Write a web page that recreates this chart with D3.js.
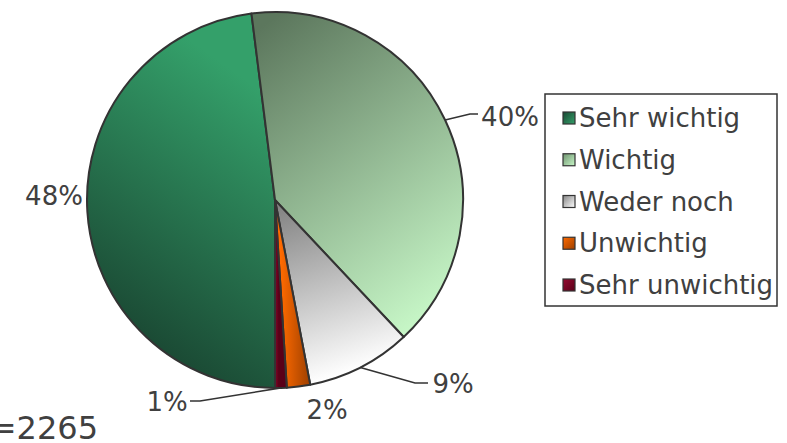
<!DOCTYPE html>
<html>
<head>
<meta charset="utf-8">
<script src="https://cdn.jsdelivr.net/npm/d3@7"></script>
<style>
  html, body { margin: 0; padding: 0; background: #fff; }
  svg { display: block; font-family: "DejaVu Sans", Verdana, sans-serif; }
</style>
</head>
<body>
<svg id="chart" width="787" height="443"></svg>
<script>
// Answer categories, in drawing order (clockwise from six o'clock)
const categories = ["Sehr wichtig", "Wichtig", "Weder noch", "Unwichtig", "Sehr unwichtig"];
// Share of respondents per category, percent
const shares = [48, 40, 9, 2, 1];
// Percentage labels shown next to the slices
const shareLabels = ["48%", "40%", "9%", "2%", "1%"];
const sampleLabel = "n=2265";

// Gradient stops per category: [from, to]
const gradientColors = [
  ["#1a4833", "#34a06a"],
  ["#5c775d", "#c8f8c8"],
  ["#848484", "#ffffff"],
  ["#ff6a00", "#9c3f00"],
  ["#950a30", "#5a0018"]
];

const svg = d3.select("#chart");
const cx = 275, cy = 200, r = 188;

const data = categories.map((c, i) => ({ name: c, value: shares[i], label: shareLabels[i], idx: i }));

const pie = d3.pie().value(d => d.value).sort(null)
  .startAngle(Math.PI).endAngle(3 * Math.PI);
const arcs = pie(data);
const arc = d3.arc().innerRadius(0).outerRadius(r);

const defs = svg.append("defs");
// gradient direction per slice, relative to the pie centre (unit: radius)
const gradVec = [
  [[-0.95, 0.6], [-0.1, -0.6]],
  [[-0.1, -0.9], [0.95, 0.55]],
  [[0.0, 0.05], [0.3, 0.95]],
  [[0.03, 0.5], [0.19, 0.5]],
  [[-0.01, 0.5], [0.02, 0.5]]
];
gradientColors.forEach((cols, i) => {
  const g = defs.append("linearGradient")
    .attr("id", "g" + i)
    .attr("gradientUnits", "userSpaceOnUse")
    .attr("x1", gradVec[i][0][0] * r).attr("y1", gradVec[i][0][1] * r)
    .attr("x2", gradVec[i][1][0] * r).attr("y2", gradVec[i][1][1] * r);
  g.append("stop").attr("offset", "0%").attr("stop-color", cols[0]);
  g.append("stop").attr("offset", "100%").attr("stop-color", cols[1]);
  // legend swatch gradient
  const s = defs.append("linearGradient").attr("id", "s" + i)
    .attr("x1", 0).attr("y1", 0).attr("x2", 1).attr("y2", 1);
  s.append("stop").attr("offset", "0%").attr("stop-color", i === 1 ? "#6f9370" : cols[0]);
  s.append("stop").attr("offset", "100%").attr("stop-color", cols[1]);
});

const g = svg.append("g").attr("transform", `translate(${cx},${cy})`);
g.selectAll("path.slice").data(arcs).join("path")
  .attr("class", "slice")
  .attr("d", arc)
  .attr("fill", d => `url(#g${d.data.idx})`)
  .attr("stroke", "#333")
  .attr("stroke-width", 2)
  .attr("stroke-linejoin", "round");

// Label placement and leader-line bends per category
const labelCfg = {
  "Sehr wichtig": { pos: [54, 196], leader: null },
  "Wichtig": { pos: [510, 117], leader: [[470, 114], [478, 114]] },
  "Weder noch": { pos: [453, 384], leader: [[415, 383], [428, 383]] },
  "Unwichtig": { pos: [327, 410], leader: null },
  "Sehr unwichtig": { pos: [167, 402], leader: [[200, 401], [190, 401]] }
};

arcs.forEach(a => {
  const cfg = labelCfg[a.data.name];
  const mid = (a.startAngle + a.endAngle) / 2;
  if (cfg.leader) {
    const p0 = [cx + Math.sin(mid) * r, cy - Math.cos(mid) * r];
    svg.append("polyline")
      .attr("points", [p0, ...cfg.leader].map(p => p.join(",")).join(" "))
      .attr("fill", "none")
      .attr("stroke", "#333")
      .attr("stroke-width", 1.6);
  }
  svg.append("text")
    .attr("x", cfg.pos[0]).attr("y", cfg.pos[1])
    .attr("text-anchor", "middle")
    .attr("dominant-baseline", "central")
    .attr("font-size", 26)
    .attr("fill", "#404040")
    .text(a.data.label);
});

// Sample size
svg.append("text")
  .attr("x", 98).attr("y", 428)
  .attr("text-anchor", "end")
  .attr("dominant-baseline", "central")
  .attr("font-size", 32)
  .attr("fill", "#404040")
  .text(sampleLabel);

// Legend
const lx = 545, ly = 94, lw = 232, lh = 212;
const legend = svg.append("g");
legend.append("rect")
  .attr("x", lx).attr("y", ly).attr("width", lw).attr("height", lh)
  .attr("fill", "#fff").attr("stroke", "#333").attr("stroke-width", 1.5);

const rowY = d3.scalePoint().domain(categories).range([118, 285]);
const items = legend.selectAll("g.item").data(categories).join("g")
  .attr("class", "item")
  .attr("transform", d => `translate(0,${rowY(d)})`);
items.append("rect")
  .attr("x", 563).attr("y", -6).attr("width", 12).attr("height", 12)
  .attr("fill", (d, i) => `url(#s${i})`)
  .attr("stroke", "#333").attr("stroke-width", 1.2);
items.append("text")
  .attr("x", 579).attr("y", 0)
  .attr("dominant-baseline", "central")
  .attr("font-size", 26)
  .attr("fill", "#404040")
  .text(d => d);
</script>
</body>
</html>
